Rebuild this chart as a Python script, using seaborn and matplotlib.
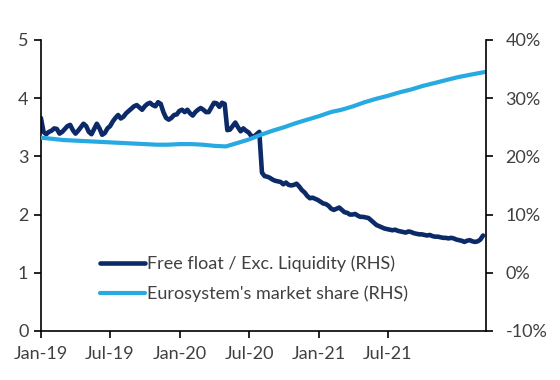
import numpy as np
import pandas as pd
import matplotlib
matplotlib.use('Agg')
import matplotlib.pyplot as plt
import matplotlib.dates as mdates
import seaborn as sns
from matplotlib.ticker import PercentFormatter, MultipleLocator

# Free float / excess liquidity, weekly readings from Jan-19 (left scale)
free_float = [
    3.66, 3.42, 3.38, 3.42, 3.44, 3.48, 3.47, 3.39, 3.42, 3.47,
    3.52, 3.54, 3.45, 3.39, 3.44, 3.50, 3.56, 3.52, 3.42, 3.38,
    3.47, 3.56, 3.48, 3.37, 3.40, 3.48, 3.52, 3.60, 3.66, 3.71,
    3.65, 3.68, 3.74, 3.78, 3.82, 3.86, 3.88, 3.84, 3.80, 3.86,
    3.90, 3.92, 3.88, 3.86, 3.93, 3.90, 3.76, 3.66, 3.63, 3.66,
    3.71, 3.72, 3.78, 3.80, 3.76, 3.80, 3.74, 3.70, 3.76, 3.80,
    3.83, 3.80, 3.76, 3.76, 3.84, 3.92, 3.91, 3.85, 3.92, 3.90,
    3.45, 3.46, 3.52, 3.58, 3.50, 3.43, 3.48, 3.44, 3.41, 3.35,
    3.34, 3.38, 3.42, 2.72, 2.66, 2.65, 2.63, 2.60, 2.58, 2.57,
    2.56, 2.52, 2.55, 2.51, 2.50, 2.51, 2.53, 2.48, 2.42, 2.38,
    2.32, 2.28, 2.29, 2.27, 2.25, 2.22, 2.19, 2.18, 2.15, 2.10,
    2.08, 2.10, 2.12, 2.08, 2.04, 2.03, 2.00, 2.00, 2.01, 1.98,
    1.96, 1.96, 1.95, 1.94, 1.90, 1.86, 1.82, 1.80, 1.78, 1.76,
    1.75, 1.74, 1.73, 1.74, 1.72, 1.71, 1.70, 1.69, 1.71, 1.70,
    1.68, 1.67, 1.66, 1.66, 1.65, 1.64, 1.65, 1.63, 1.62, 1.62,
    1.61, 1.60, 1.60, 1.59, 1.60, 1.59, 1.57, 1.56, 1.55, 1.53,
    1.55, 1.56, 1.54, 1.53, 1.54, 1.57, 1.64,
]
ff_dates = pd.date_range('2019-01-01', periods=len(free_float), freq='7D')

# Eurosystem's market share, monthly readings (right scale, %)
share_dates = list(pd.date_range('2019-01-01', '2022-02-01', freq='MS')) + [pd.Timestamp('2022-03-14')]
market_share = [
    23.2, 23.0, 22.8, 22.7, 22.6, 22.5, 22.4, 22.3, 22.2, 22.1, 22.0, 22.0,
    22.1, 22.1, 22.0, 21.8, 21.7, 22.3, 22.9, 23.7, 24.4, 25.0, 25.7, 26.3,
    26.9, 27.6, 28.0, 28.6, 29.3, 29.9, 30.4, 31.0, 31.5, 32.1, 32.6, 33.1,
    33.6, 34.0, 34.5,
]

tick_dates = pd.date_range('2019-01-01', '2021-07-01', freq='6MS')

df_ff = pd.DataFrame({'date': ff_dates, 'value': free_float})
df_ms = pd.DataFrame({'date': share_dates, 'value': np.array(market_share) / 100})

sns.set_style('white')
plt.rcParams['font.family'] = ['Lato', 'DejaVu Sans']
plt.rcParams['axes.unicode_minus'] = False

dark = '#0c2a68'
light = '#27a9e1'
text_col = '#404040'
fs = 13

fig = plt.figure(figsize=(5.6, 3.8), dpi=100)
ax = fig.add_axes([0.073, 0.129, 0.795, 0.766])
ax2 = ax.twinx()

sns.lineplot(data=df_ff, x='date', y='value', ax=ax, color=dark, linewidth=3.3,
             label='Free float / Exc. Liquidity (RHS)', legend=False)
sns.lineplot(data=df_ms, x='date', y='value', ax=ax2, color=light, linewidth=3.0,
             label="Eurosystem's market share (RHS)", legend=False)

# Axes
ax.set_xlim(pd.Timestamp('2019-01-01'), pd.Timestamp('2022-03-16'))
ax.set_ylim(0, 5)
ax.yaxis.set_major_locator(MultipleLocator(1))
ax2.set_ylim(-0.10, 0.40)
ax2.yaxis.set_major_locator(MultipleLocator(0.10))
ax2.yaxis.set_major_formatter(PercentFormatter(xmax=1, decimals=0))
ax.set_xticks(tick_dates)
ax.xaxis.set_major_formatter(mdates.DateFormatter('%b-%y'))
ax.set_xlabel('')
ax.set_ylabel('')
ax2.set_ylabel('')

for a in (ax, ax2):
    a.spines['top'].set_visible(False)
    for s in a.spines.values():
        s.set_color('black')
        s.set_linewidth(1.2)
    a.tick_params(labelcolor=text_col, labelsize=fs, length=5, width=1.2, color='black')
ax.spines['right'].set_visible(False)
ax2.spines['left'].set_visible(False)
ax2.spines['bottom'].set_visible(False)
ax.tick_params(axis='x', pad=6, bottom=True)
ax.tick_params(axis='y', left=True, pad=4)
ax2.tick_params(axis='y', right=True, pad=9)

# Legend
handles = ax.get_lines()[:1] + ax2.get_lines()[:1]
labels = ['Free float / Exc. Liquidity (RHS)', "Eurosystem's market share (RHS)"]
ax.legend(handles, labels, loc='lower left', bbox_to_anchor=(0.105, 0.055), frameon=False,
          fontsize=fs, handlelength=2.5, handletextpad=0.1, labelspacing=0.75,
          labelcolor=text_col, borderpad=0.2)

plt.savefig('out.png', dpi=100)
